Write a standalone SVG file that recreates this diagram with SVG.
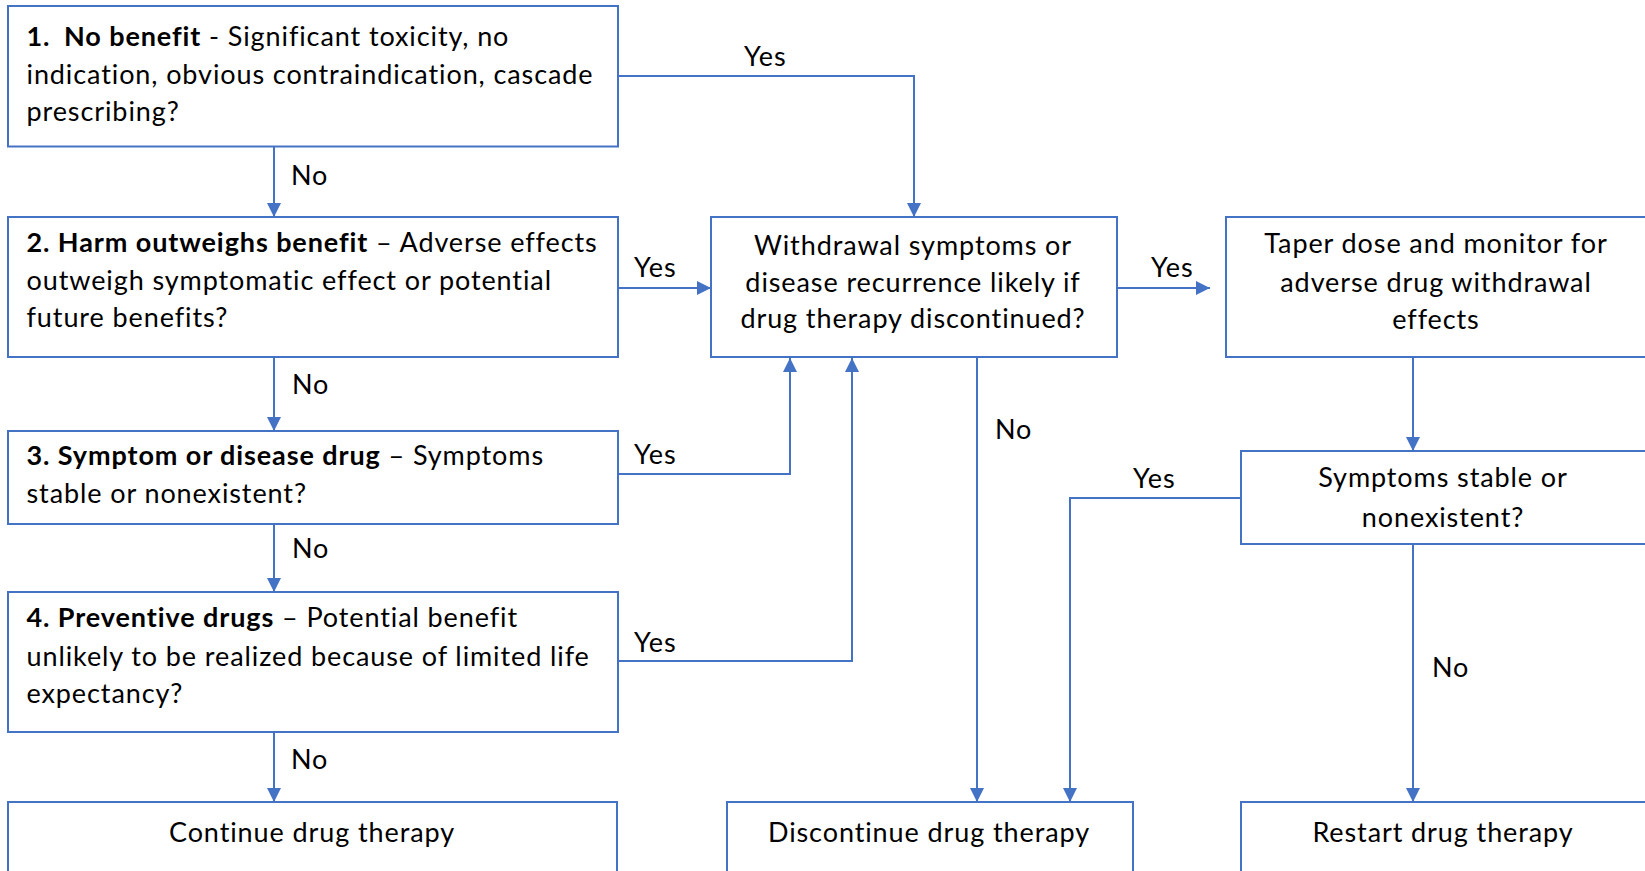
<svg xmlns="http://www.w3.org/2000/svg" width="1645" height="871" viewBox="0 0 1645 871">
<style>
.box{fill:#fff;stroke:#4472C4;stroke-width:2}
.t{font-family:Lato,"Liberation Sans",sans-serif;font-size:27px;letter-spacing:0.9px;fill:#000}
.m{text-anchor:middle}
.b{font-weight:bold}
.c{fill:none;stroke:#4472C4;stroke-width:2}
</style>
<defs>
<marker id="ah" markerUnits="userSpaceOnUse" markerWidth="14" markerHeight="14" refX="14" refY="7" orient="auto">
<path d="M0,0 L14,7 L0,14 z" fill="#4472C4"/>
</marker>
</defs>
<rect width="1645" height="871" fill="#fff"/>
<g id="connectors">
<path class="c" d="M618,76 H914 V217" marker-end="url(#ah)"/>
<path class="c" d="M618,288 H711" marker-end="url(#ah)"/>
<path class="c" d="M618,474 H790 V358" marker-end="url(#ah)"/>
<path class="c" d="M618,661 H852 V358" marker-end="url(#ah)"/>
<path class="c" d="M274,147 V217" marker-end="url(#ah)"/>
<path class="c" d="M274,357 V431" marker-end="url(#ah)"/>
<path class="c" d="M274,524 V592" marker-end="url(#ah)"/>
<path class="c" d="M274,732 V802" marker-end="url(#ah)"/>
<path class="c" d="M1117,288 H1210" marker-end="url(#ah)"/>
<path class="c" d="M977,357 V802" marker-end="url(#ah)"/>
<path class="c" d="M1413,357 V451" marker-end="url(#ah)"/>
<path class="c" d="M1241,498 H1070 V802" marker-end="url(#ah)"/>
<path class="c" d="M1413,544 V802" marker-end="url(#ah)"/>
<text class="t" x="744" y="66">Yes</text>
<text class="t" x="291" y="185">No</text>
<text class="t" x="634" y="277">Yes</text>
<text class="t" x="292" y="394">No</text>
<text class="t" x="634" y="464">Yes</text>
<text class="t" x="292" y="558">No</text>
<text class="t" x="634" y="652">Yes</text>
<text class="t" x="291" y="769">No</text>
<text class="t" x="1151" y="277">Yes</text>
<text class="t" x="995" y="439">No</text>
<text class="t" x="1133" y="488">Yes</text>
<text class="t" x="1432" y="677">No</text>
</g>
<g id="n1">
<rect class="box" x="8" y="6" width="610" height="140.5"/>
<text class="t" x="26.5" y="46"><tspan class="b">1.</tspan><tspan class="b" x="64">No benefit</tspan> - Significant toxicity, no</text>
<text class="t" x="26.5" y="84">indication, obvious contraindication, cascade</text>
<text class="t" x="26.5" y="121">prescribing?</text>
</g>
<g id="n2">
<rect class="box" x="8" y="217" width="610" height="140"/>
<text class="t" x="26.5" y="252"><tspan class="b">2. Harm outweighs benefit</tspan> – Adverse effects</text>
<text class="t" x="26.5" y="290">outweigh symptomatic effect or potential</text>
<text class="t" x="26.5" y="327">future benefits?</text>
</g>
<g id="n3">
<rect class="box" x="8" y="431" width="610" height="93"/>
<text class="t" x="26.5" y="465"><tspan class="b">3. Symptom or disease drug</tspan> – Symptoms</text>
<text class="t" x="26.5" y="503">stable or nonexistent?</text>
</g>
<g id="n4">
<rect class="box" x="8" y="592" width="610" height="140"/>
<text class="t" x="26.5" y="627"><tspan class="b">4. Preventive drugs</tspan> – Potential benefit</text>
<text class="t" x="26.5" y="666">unlikely to be realized because of limited life</text>
<text class="t" x="26.5" y="703">expectancy?</text>
</g>
<g id="n5">
<rect class="box" x="8" y="802" width="609" height="90"/>
<text class="t m" x="312" y="842">Continue drug therapy</text>
</g>
<g id="n6">
<rect class="box" x="711" y="217" width="406" height="140"/>
<text class="t m" x="913" y="255">Withdrawal symptoms or</text>
<text class="t m" x="913" y="292">disease recurrence likely if</text>
<text class="t m" x="913" y="328">drug therapy discontinued?</text>
</g>
<g id="n7">
<rect class="box" x="1226" y="217" width="440" height="140"/>
<text class="t m" x="1436" y="253">Taper dose and monitor for</text>
<text class="t m" x="1436" y="292">adverse drug withdrawal</text>
<text class="t m" x="1436" y="329">effects</text>
</g>
<g id="n8">
<rect class="box" x="1241" y="451" width="420" height="93"/>
<text class="t m" x="1443" y="487">Symptoms stable or</text>
<text class="t m" x="1443" y="527">nonexistent?</text>
</g>
<g id="n9">
<rect class="box" x="727" y="802" width="406" height="90"/>
<text class="t m" x="929" y="842">Discontinue drug therapy</text>
</g>
<g id="n10">
<rect class="box" x="1241" y="802" width="420" height="90"/>
<text class="t m" x="1443" y="842">Restart drug therapy</text>
</g>
</svg>
